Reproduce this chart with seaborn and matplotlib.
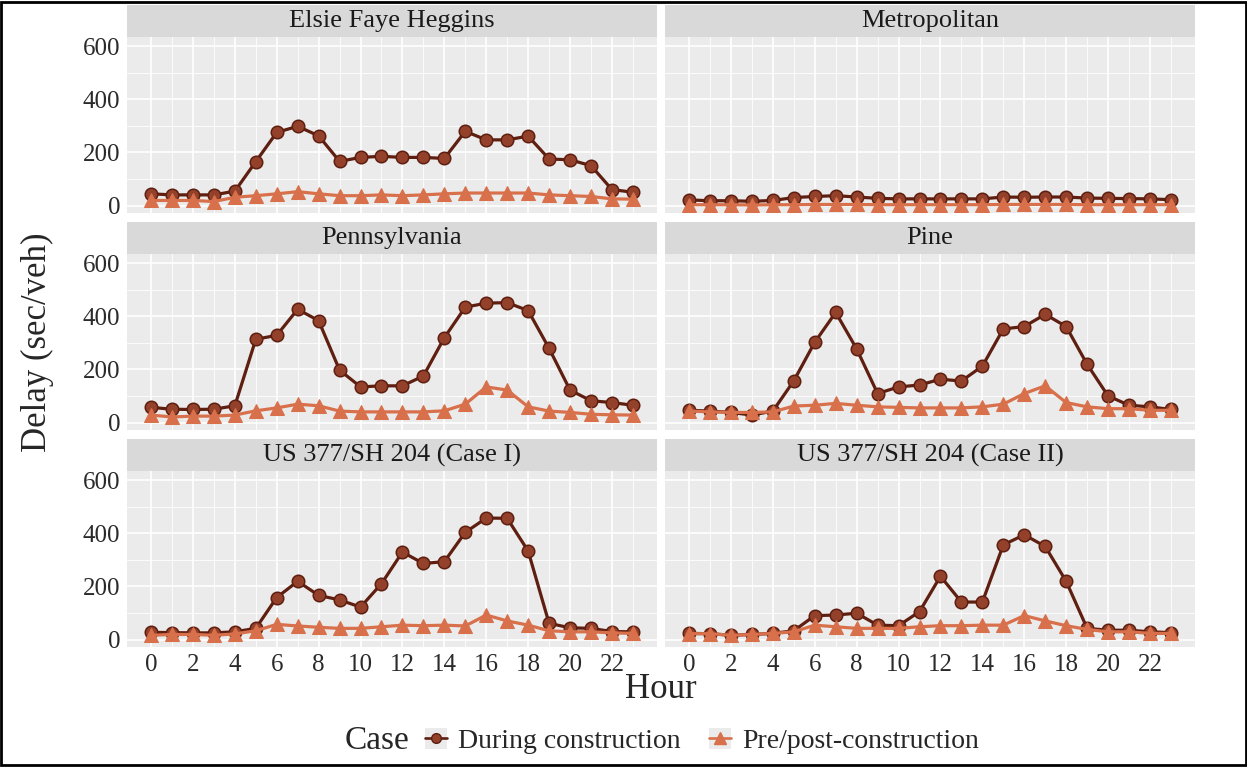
import matplotlib.pyplot as plt
import seaborn as sns
from matplotlib.lines import Line2D
from matplotlib.patches import Rectangle
from matplotlib.legend_handler import HandlerTuple

# Hourly delay (sec/veh)
hours = list(range(24))

roads = [
    "Elsie Faye Heggins",
    "Metropolitan",
    "Pennsylvania",
    "Pine",
    "US 377/SH 204 (Case I)",
    "US 377/SH 204 (Case II)",
]

efh_during = [44, 40, 40, 40, 54, 165, 275, 298, 262, 166, 181, 185,
              181, 181, 177, 279, 247, 247, 261, 175, 172, 150, 60, 50]
efh_pre = [19, 19, 19, 15, 31, 37, 44, 52, 44, 37, 37, 40,
           37, 40, 44, 47, 47, 47, 47, 40, 37, 34, 25, 24]

metro_during = [21, 18, 18, 16, 19, 30, 34, 37, 32, 27, 25, 25,
                25, 25, 25, 32, 31, 32, 32, 28, 27, 26, 25, 22]
metro_pre = [3, 3, 3, 2, 3, 3, 4, 4, 4, 3, 3, 3,
             3, 3, 3, 4, 4, 4, 4, 3, 3, 3, 3, 3]

penn_during = [57, 50, 49, 50, 63, 313, 328, 426, 383, 197, 134, 138,
               138, 175, 319, 434, 449, 451, 421, 279, 122, 82, 75, 65]
penn_pre = [28, 21, 24, 24, 28, 44, 55, 69, 63, 43, 40, 40,
            40, 40, 44, 69, 134, 122, 59, 43, 38, 31, 29, 28]

pine_during = [46, 43, 38, 28, 43, 157, 302, 414, 277, 109, 134, 141,
               163, 156, 212, 352, 361, 407, 361, 219, 100, 65, 59, 49]
pine_pre = [43, 40, 38, 38, 40, 62, 65, 72, 65, 59, 57, 55,
            55, 55, 59, 69, 109, 138, 75, 59, 52, 52, 46, 46]

case1_during = [27, 26, 25, 25, 29, 42, 158, 219, 166, 149, 122, 210,
                329, 286, 293, 403, 457, 456, 333, 61, 44, 42, 30, 29]
case1_pre = [16, 19, 19, 16, 21, 33, 57, 51, 46, 42, 42, 48,
             54, 52, 54, 51, 92, 70, 54, 33, 29, 29, 25, 23]

case2_during = [23, 22, 16, 19, 23, 33, 90, 92, 99, 54, 52, 105,
                238, 141, 141, 356, 394, 350, 219, 42, 35, 35, 29, 26]
case2_pre = [22, 22, 16, 19, 23, 29, 54, 48, 42, 42, 42, 48,
             52, 52, 54, 54, 90, 70, 52, 38, 29, 29, 23, 23]

during = [efh_during, metro_during, penn_during, pine_during, case1_during, case2_during]
pre = [efh_pre, metro_pre, penn_pre, pine_pre, case1_pre, case2_pre]

case_labels = ["During construction", "Pre/post-construction"]

DUR_LINE = "#5e1e10"
DUR_FILL = "#93412a"
PRE_COL = "#d8704b"
PANEL_BG = "#EBEBEB"
STRIP_BG = "#D9D9D9"

sns.set_style("white")
plt.rcParams["font.family"] = ["Liberation Serif", "DejaVu Serif"]

fig, axes = plt.subplots(3, 2, figsize=(12.47, 7.67), dpi=100, sharex=True, sharey=True)
fig.subplots_adjust(left=0.1018, right=0.9583, top=0.9518, bottom=0.1565,
                    wspace=0.0151, hspace=0.233)

strip_h = 32 / 176

for i, (ax, name, dur, pp) in enumerate(zip(axes.flat, roads, during, pre)):
    ax.set_facecolor(PANEL_BG)
    sns.lineplot(x=hours, y=dur, ax=ax, color=DUR_LINE, lw=2.3, marker="o",
                 ms=9, mfc=DUR_FILL, mec=DUR_LINE, mew=1.1)
    sns.lineplot(x=hours, y=pp, ax=ax, color=PRE_COL, lw=2.3, marker="^",
                 ms=10, mfc=PRE_COL, mec=PRE_COL)

    ax.set_xlim(-1.15, 24.15)
    ax.set_ylim(-28, 634)
    ax.set_xticks(range(0, 24, 2))
    ax.set_xticks(range(1, 24, 2), minor=True)
    ax.set_yticks([0, 200, 400, 600])
    ax.set_yticks([100, 300, 500], minor=True)
    ax.grid(which="major", color="white", lw=1.2)
    ax.grid(which="minor", color="white", lw=0.6)
    ax.set_axisbelow(True)
    ax.tick_params(which="minor", length=0)
    ax.tick_params(which="major", length=3, width=0.8, color="#333333",
                   labelsize=18, labelcolor="#2a2a2a", pad=2)
    if i < 4:
        ax.tick_params(axis="x", bottom=False)
    if i % 2 == 1:
        ax.tick_params(axis="y", left=False)
    for s in ax.spines.values():
        s.set_visible(False)
    ax.set_xlabel("")
    ax.set_ylabel("")

    # ggplot-like facet strip
    ax.add_patch(Rectangle((0, 1), 1, strip_h, transform=ax.transAxes,
                           clip_on=False, facecolor=STRIP_BG, edgecolor="none"))
    ax.text(0.5, 1 + strip_h / 2, name, transform=ax.transAxes,
            ha="center", va="center", fontsize=19, color="#1a1a1a")

fig.text(37 / 1247, 1 - 342 / 767, "Delay (sec/veh)", rotation=90,
         ha="center", va="center", fontsize=25)
fig.text(661 / 1247, 1 - 690 / 767, "Hour", ha="center", va="center", fontsize=25)

# legend at the bottom, title to the left
fig.text(377 / 1247, 1 - 741 / 767, "Case", ha="center", va="center", fontsize=24)
handles = [
    (Rectangle((0, 0), 1, 1, fc=PANEL_BG, ec="none"),
     Line2D([], [], color=DUR_LINE, lw=1.9, marker="o", ms=7, mfc=DUR_FILL, mec=DUR_LINE)),
    (Rectangle((0, 0), 1, 1, fc=PANEL_BG, ec="none"),
     Line2D([], [], color=PRE_COL, lw=1.9, marker="^", ms=8, mfc=PRE_COL, mec=PRE_COL)),
]
fig.legend(handles, case_labels, handler_map={tuple: HandlerTuple(ndivide=1)},
           ncol=2, loc="center", bbox_to_anchor=(702 / 1247, 1 - 741 / 767),
           frameon=False, fontsize=20, handlelength=0.8, handleheight=0.8,
           handletextpad=0.4, columnspacing=1.0)

fig.add_artist(Rectangle((0.001, 0.002), 0.998, 0.996, transform=fig.transFigure,
                         fill=False, ec="black", lw=2))

fig.savefig("out.png", dpi=100)
